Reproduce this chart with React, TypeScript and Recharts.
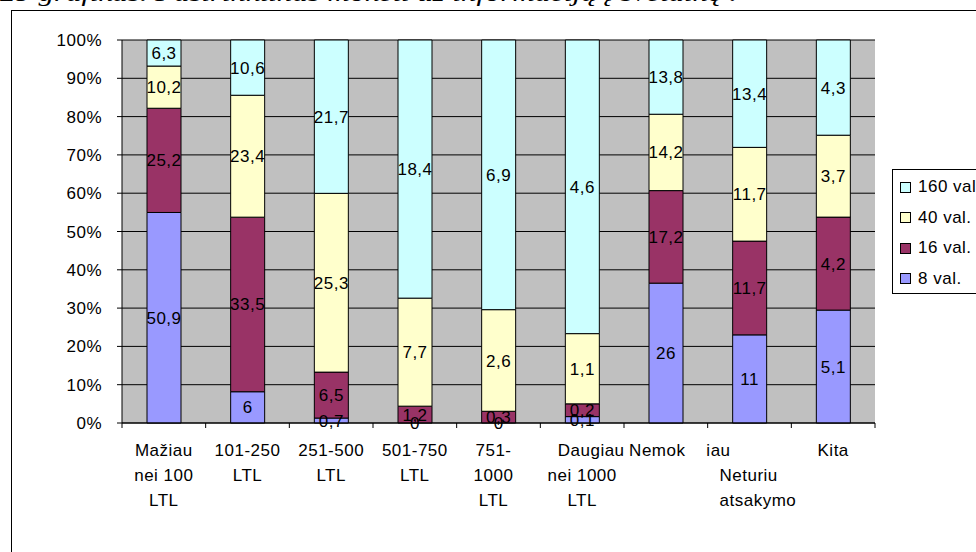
import React from 'react';
import { BarChart, Bar, XAxis, YAxis, CartesianGrid, LabelList } from 'recharts';

const categories = [
  'Mažiau nei 100 LTL',
  '101-250 LTL',
  '251-500 LTL',
  '501-750 LTL',
  '751-1000 LTL',
  'Daugiau nei 1000 LTL',
  'Nemokėčiau',
  'Neturiu atsakymo',
  'Kita',
];

// tick text exactly as it wraps in the picture
const tickLines = [
  ['Mažiau', 'nei 100', 'LTL'],
  ['101-250', 'LTL'],
  ['251-500', 'LTL'],
  ['501-750', 'LTL'],
  ['751-', '1000', 'LTL'],
  ['Daugiau', 'nei 1000', 'LTL'],
  ['Nemok    iau'],
  ['', 'Neturiu', 'atsakymo'],
  ['Kita'],
];

const val8 = [50.9, 6, 0.7, 0, 0, 0.1, 26, 11, 5.1];
const val16 = [25.2, 33.5, 6.5, 1.2, 0.3, 0.2, 17.2, 11.7, 4.2];
const val40 = [10.2, 23.4, 25.3, 7.7, 2.6, 1.1, 14.2, 11.7, 3.7];
const val160 = [6.3, 10.6, 21.7, 18.4, 6.9, 4.6, 13.8, 13.4, 4.3];

const yTicks = [0, 0.1, 0.2, 0.3, 0.4, 0.5, 0.6, 0.7, 0.8, 0.9, 1];

const series = [
  { key: 'v8', name: '8 val.', color: '#9999FF' },
  { key: 'v16', name: '16 val.', color: '#993366' },
  { key: 'v40', name: '40 val.', color: '#FFFFCC' },
  { key: 'v160', name: '160 val.', color: '#CCFFFF' },
];

const data = categories.map((c, i) => ({
  name: c,
  v8: val8[i],
  v16: val16[i],
  v40: val40[i],
  v160: val160[i],
}));

const FONT = '"Liberation Sans", Arial, sans-serif';
const W = 976;
const H = 552;
const PLOT_LEFT = 122;
const PLOT_RIGHT = 875;
const PLOT_TOP = 40;
const PLOT_BOTTOM = 423;
const CAT_W = (PLOT_RIGHT - PLOT_LEFT) / categories.length;

// small nudges where the original wrapped text sits off-centre
const lineShift = (index: number, line: number) => {
  if (index === 5 && line === 0) return { dx: 9, anchor: 'middle' };
  if (index === 6) return { dx: 14, anchor: 'middle' };
  if (index === 7) return { dx: -30, anchor: 'start' };
  if (index === 4) return { dx: -5, anchor: 'middle' };
  return { dx: 0, anchor: 'middle' };
};

const CategoryTick = (props: any) => {
  const { x, y, index } = props;
  const lines = tickLines[index] || [];
  const half = CAT_W / 2;
  return (
    <g>
      <line x1={x - half} x2={x - half} y1={y} y2={y + 5} stroke="#000" />
      {index === categories.length - 1 && (
        <line x1={x + half} x2={x + half} y1={y} y2={y + 5} stroke="#000" />
      )}
      {lines.map((l, i) => {
        const s = lineShift(index, i);
        return (
          <text
            key={i}
            x={x + s.dx}
            y={y + 33 + i * 25}
            textAnchor={s.anchor as any}
            fontSize={17}
            letterSpacing={0.5}
            fontFamily={FONT}
            fill="#000"
            style={{ whiteSpace: 'pre' }}
          >
            {l}
          </text>
        );
      })}
    </g>
  );
};

const fmt = (v: any) => String(v).replace('.', ',');

// zero-height 8 val. segments get no label of their own; draw their "0" at the
// bottom of the 16 val. segment sitting on top of them
const ZeroBelowLabel = (props: any) => {
  const { x, y, width, height, value } = props;
  if (value !== 0) return null;
  return (
    <text
      x={x + width / 2}
      y={y + height}
      dy="0.355em"
      textAnchor="middle"
      fontSize={17}
      letterSpacing={0.5}
      fontFamily={FONT}
      fill="#000"
    >
      0
    </text>
  );
};

const App = () => {
  const legendItems = [...series].reverse();
  return (
    <div style={{ position: 'absolute', left: 0, top: 0, width: W, height: H, background: '#fff', overflow: 'hidden' }}>
      <svg width={W} height={20} style={{ position: 'absolute', left: 0, top: 0 }}>
        <text
          x={0}
          y={1}
          fontSize={24}
          fontStyle="italic"
          fontFamily='"Liberation Serif", "Times New Roman", serif'
          textLength={737}
          lengthAdjust="spacingAndGlyphs"
          fill="#000"
        >
          29 grafikas. Pasirinktinas mokėti už informaciją į svetainę .
        </text>
      </svg>
      <div
        style={{
          position: 'absolute',
          left: 11,
          top: 10,
          width: W,
          height: H,
          borderLeft: '1px solid #000',
          borderTop: '1px solid #000',
        }}
      />
      <div style={{ position: 'absolute', left: 0, top: 0 }}>
        <BarChart
          width={W}
          height={H}
          data={data}
          stackOffset="expand"
          barSize={34}
          margin={{ top: PLOT_TOP, right: W - PLOT_RIGHT, bottom: 0, left: 0 }}
        >
          <CartesianGrid vertical={false} stroke="#000" fill="#C0C0C0" fillOpacity={1} />
          <XAxis
            dataKey="name"
            height={H - PLOT_BOTTOM}
            interval={0}
            tickLine={false}
            tickSize={0}
            tickMargin={0}
            axisLine={{ stroke: '#000' }}
            tick={<CategoryTick />}
          />
          <YAxis
            width={PLOT_LEFT}
            domain={[0, 1]}
            ticks={yTicks}
            tickSize={5}
            tickMargin={15}
            axisLine={{ stroke: '#000' }}
            tickLine={{ stroke: '#000' }}
            tickFormatter={(v) => `${Math.round(v * 100)}%`}
            tick={{ fontSize: 17, fill: '#000', fontFamily: FONT, letterSpacing: 0.5 }}
          />
          {series.map((s) => (
            <Bar
              key={s.key}
              dataKey={s.key}
              name={s.name}
              stackId="a"
              fill={s.color}
              stroke="#000"
              strokeWidth={1}
              isAnimationActive={false}
            >
              <LabelList
                dataKey={s.key}
                position="center"
                formatter={fmt}
                fill="#000"
                fontSize={17}
                fontFamily={FONT}
                letterSpacing={0.5}
              />
              {s.key === 'v16' && <LabelList dataKey="v8" content={<ZeroBelowLabel />} />}
            </Bar>
          ))}
        </BarChart>
      </div>
      <div
        style={{
          position: 'absolute',
          left: 892,
          top: 169,
          width: 120,
          height: 123,
          border: '1px solid #000',
          background: '#fff',
          fontFamily: FONT,
          fontSize: 17,
          letterSpacing: 0.5,
        }}
      >
        {legendItems.map((s, i) => (
          <div
            key={s.key}
            style={{ position: 'absolute', left: 7, top: 17 + i * 30.5 - 10, height: 20, display: 'flex', alignItems: 'center', whiteSpace: 'nowrap' }}
          >
            <span
              style={{ display: 'inline-block', width: 9, height: 9, background: s.color, border: '1px solid #000', marginRight: 7 }}
            />
            <span>{s.name}</span>
          </div>
        ))}
      </div>
    </div>
  );
};

export default App;
